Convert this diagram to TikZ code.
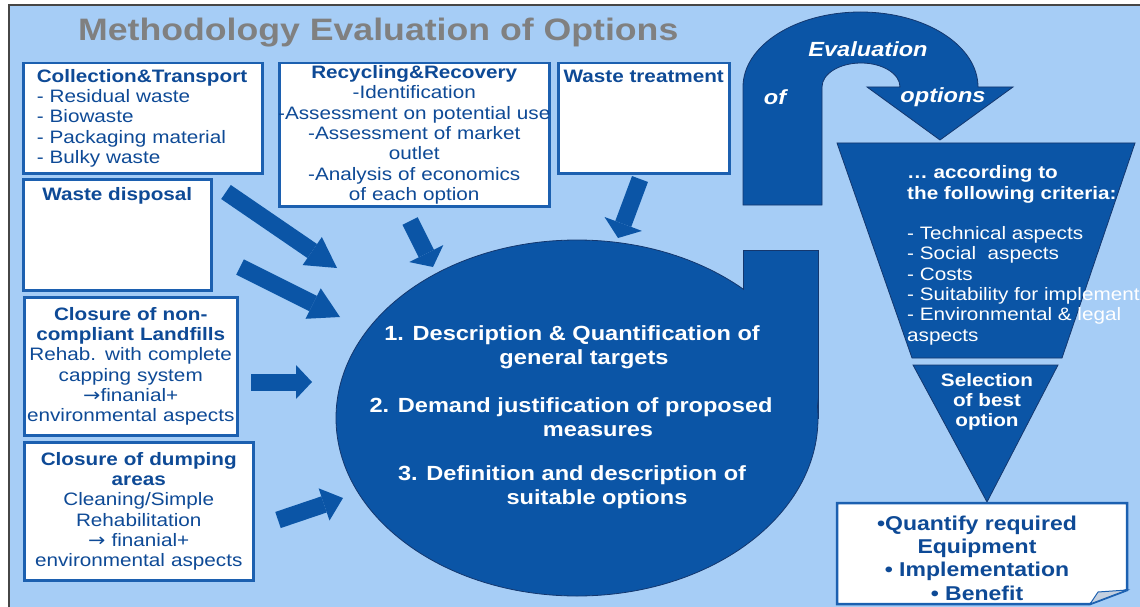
\documentclass[tikz,border=0pt]{standalone}
\usepackage{fontspec}
\setmainfont{Liberation Sans}[FakeStretch=1.15]
\newfontfamily\arrowfont{DejaVu Sans}[FakeStretch=1.15]
\usetikzlibrary{shapes.geometric, arrows.meta, positioning}

\definecolor{bgblue}{RGB}{166,205,246}
\definecolor{darkblue}{RGB}{11,85,166}
\definecolor{edgeblue}{RGB}{20,55,110}
\definecolor{boxline}{RGB}{28,96,176}
\definecolor{textblue}{RGB}{14,74,150}
\definecolor{titlegray}{RGB}{128,128,128}
\definecolor{framegray}{RGB}{70,70,70}
\definecolor{curlgray}{RGB}{196,208,224}

\newcommand\bxfont{\fontsize{18}{20.3}\selectfont}
\newcommand\elfont{\fontsize{20.5}{24}\selectfont\bfseries}
\newcommand\resfont{\fontsize{20}{23.3}\selectfont\bfseries}
\newcommand\toarrow{{\arrowfont →}}

\tikzstyle{box} = [rectangle, draw = boxline, line width = 2.5pt, fill = white, inner sep = 0pt, text = textblue, font = \bxfont]
\tikzstyle{boxtitle} = [inner sep = 0pt, text = textblue, font = \bxfont\bfseries]
\tikzstyle{core} = [ellipse, fill = darkblue, draw = edgeblue, line width = 0.8pt, minimum width = 482pt, minimum height = 356pt, inner sep = 0pt]
\tikzstyle{darkpart} = [fill = darkblue, draw = edgeblue, line width = 0.8pt]
\tikzstyle{whitetext} = [inner sep = 0pt, text = white, font = \bxfont\bfseries]
\tikzstyle{loopword} = [inner sep = 0pt, text = white, font = \elfont\itshape]
\tikzset{bigarrow/.style 2 args = {line width = 17pt, darkblue, -{Triangle[width = #2, length = #1, line width = 0pt]}}}

\begin{document}
\begin{tikzpicture}[x = 1pt, y = -1pt]
    \useasboundingbox (0,0) rectangle (1140,607);
    % background and frame
    \fill[white] (0,0) rectangle (1140,607);
    \filldraw[fill = bgblue, draw = framegray, line width = 1.5pt] (9,5) rectangle (1160,630);
    \node(title)[anchor = west, inner sep = 0pt, text = titlegray, font = \fontsize{31}{36}\selectfont\bfseries] at (78,33){Methodology Evaluation of Options};

    % U-turn arrow
    \draw[darkpart] (743,205) -- (743,87) arc[start angle = 180, end angle = 360, x radius = 117.5, y radius = 75]
        -- (1013,87) -- (940,140) -- (867,87) -- (900,87)
        arc[start angle = 0, end angle = -180, x radius = 39, y radius = 24] -- (822,205) -- cycle;
    \node(evalT)[loopword] at (868,49){Evaluation};
    \node(ofT)[loopword] at (775,97){of};
    \node(optT)[loopword] at (943,97){options};

    % central ellipse with its neck
    \draw[darkpart] (743,250) rectangle (818,418);
    \node(core)[core] at (577,418){};
    \fill[darkblue] (744,251) rectangle (817,418);
    \node(item1)[whitetext, font = \elfont, align = center] at (572,347){1. Description \& Quantification of\\\hspace*{24pt}general targets};
    \node(item2)[whitetext, font = \elfont, align = center] at (571,417){2. Demand justification of proposed\\\hspace*{54pt}measures};
    \node(item3)[whitetext, font = \elfont, align = center] at (572,487){3. Definition and description of\\\hspace*{50pt}suitable options};

    % input boxes
    \node(collect)[box, anchor = north west, minimum width = 239pt, minimum height = 110pt, text width = 212pt, align = left] at (22,62){\textbf{Collection\&Transport}\\- Residual waste\\- Biowaste\\- Packaging material\\- Bulky waste};
    \node(recycle)[box, anchor = north west, minimum width = 270pt, minimum height = 143pt, text width = 266pt, align = center] at (278,62){\textbf{Recycling\&Recovery}\\-Identification\\\makebox[0pt]{-Assessment on potential use}\\-Assessment of market\\outlet\\-Analysis of economics\\of each option};
    \node(treat)[box, anchor = north west, minimum width = 171pt, minimum height = 110pt] at (557,62){};
    \node(treatT)[boxtitle, below = 7.5pt of treat.north]{Waste treatment};
    \node(dispose)[box, anchor = north west, minimum width = 188pt, minimum height = 111pt] at (22,178){};
    \node(disposeT)[boxtitle, below = 9pt of dispose.north]{Waste disposal};
    \node(landfill)[box, anchor = north west, minimum width = 213pt, minimum height = 138pt, text width = 209pt, align = center] at (23,296){\textbf{Closure of non-}\\\textbf{compliant Landfills}\\Rehab. with complete\\capping system\\\toarrow finanial+\\environmental aspects};
    \node(dumping)[box, anchor = north west, minimum width = 229pt, minimum height = 138pt, text width = 225pt, align = center] at (23,441){\textbf{Closure of dumping}\\\textbf{areas}\\Cleaning/Simple\\Rehabilitation\\\toarrow{} finanial+\\environmental aspects};

    % block arrows into the ellipse
    \coordinate(a1s) at (226,192); \coordinate(a1e) at (337,268);
    \coordinate(a2s) at (240,267); \coordinate(a2e) at (340,317);
    \coordinate(a3s) at (251,382); \coordinate(a3e) at (312,382);
    \coordinate(a4s) at (278,520); \coordinate(a4e) at (343,498);
    \coordinate(a5s) at (410,221); \coordinate(a5e) at (433,267);
    \coordinate(a6s) at (640,179); \coordinate(a6e) at (618,238);
    \draw[bigarrow = {30pt}{34pt}](a1s)--(a1e);
    \draw[bigarrow = {30pt}{34pt}](a2s)--(a2e);
    \draw[bigarrow = {16pt}{34pt}](a3s)--(a3e);
    \draw[bigarrow = {20pt}{34pt}](a4s)--(a4e);
    \draw[bigarrow = {15pt}{38pt}](a5s)--(a5e);
    \draw[bigarrow = {15pt}{40pt}](a6s)--(a6e);

    % funnel
    \draw[darkpart] (837,143) -- (1135,143) -- (1062,358) -- (912,358) -- cycle;
    \node(crit)[whitetext, anchor = north west, align = left, font = \bxfont] at (907,165.5){\textbf{… according to}\\\textbf{the following criteria:}\\[20.3pt]- Technical aspects\\- Social~~aspects\\- Costs\\- Suitability for implement\\- Environmental \& legal\\aspects};
    \draw[darkpart] (913,365) -- (1058,365) -- (987,502) -- cycle;
    \node(select)[whitetext, align = center] at (987,402){Selection\\of best\\option};

    % result note
    \filldraw[fill = white, draw = boxline, line width = 2.5pt] (837,503) -- (1127,503) -- (1127,590) -- (1090,604) -- (837,604) -- cycle;
    \filldraw[fill = curlgray, draw = boxline, line width = 1pt] (1090,604) -- (1098,592) -- (1127,590) -- cycle;
    \node(result)[inner sep = 0pt, text = textblue, font = \resfont, align = center] at (977,558){•Quantify required\\Equipment\\• Implementation\\• Benefit};
\end{tikzpicture}
\end{document}
